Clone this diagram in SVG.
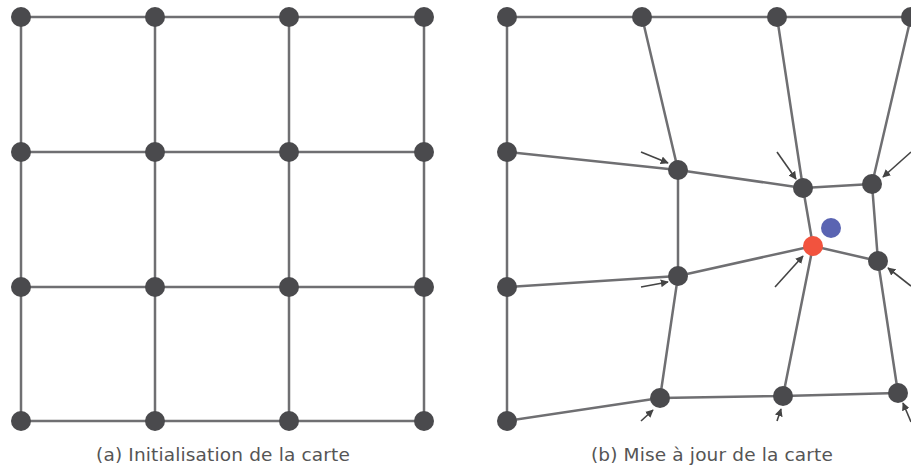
<svg xmlns="http://www.w3.org/2000/svg" width="911" height="468" viewBox="0 0 911 468">
<style>
.e{stroke:#6f6f72;stroke-width:2.5;fill:none}
.n{fill:#4a4a4d}
.a{stroke:#444;stroke-width:1.6;fill:none;marker-end:url(#ah)}
.t{font-family:"DejaVu Sans",Verdana,sans-serif;font-size:18.5px;letter-spacing:0.15px;fill:#555;text-anchor:middle}
</style>
<defs>
<marker id="ah" viewBox="0 0 10 10" refX="9" refY="5" markerWidth="5" markerHeight="5" orient="auto" markerUnits="strokeWidth">
<path d="M0,0 L10,5 L0,10 z" fill="#444"/>
</marker>
</defs>
<g id="connectors">
<path class="e" d="M21,17H424M21,152H424M21,287H424M21,421H424M21,17V421M155,17V421M289,17V421M424,17V421"/>
<path class="e" d="M507,17H911M507,152L678,170L803,188L872,184M507,287L678,276L813,246L878,261M507,421L660,398L783,396L898,393M507,17V421M642,17L678,170L678,276L660,398M777,17L803,188L813,246L783,396M911,17L872,184L878,261L898,393"/>
<line class="a" x1="641" y1="152" x2="668" y2="163"/>
<line class="a" x1="777" y1="152" x2="796" y2="179"/>
<line class="a" x1="911" y1="152" x2="883" y2="177"/>
<line class="a" x1="775" y1="287" x2="803" y2="256"/>
<line class="a" x1="911" y1="286" x2="888" y2="268"/>
<line class="a" x1="641" y1="287" x2="668" y2="282"/>
<line class="a" x1="641" y1="421" x2="653" y2="410"/>
<line class="a" x1="777" y1="421" x2="781" y2="409"/>
<line class="a" x1="911" y1="422" x2="903" y2="403"/>
</g>
<g id="grid-a">
<circle class="n" cx="21" cy="17" r="10"/><circle class="n" cx="155" cy="17" r="10"/><circle class="n" cx="289" cy="17" r="10"/><circle class="n" cx="424" cy="17" r="10"/>
<circle class="n" cx="21" cy="152" r="10"/><circle class="n" cx="155" cy="152" r="10"/><circle class="n" cx="289" cy="152" r="10"/><circle class="n" cx="424" cy="152" r="10"/>
<circle class="n" cx="21" cy="287" r="10"/><circle class="n" cx="155" cy="287" r="10"/><circle class="n" cx="289" cy="287" r="10"/><circle class="n" cx="424" cy="287" r="10"/>
<circle class="n" cx="21" cy="421" r="10"/><circle class="n" cx="155" cy="421" r="10"/><circle class="n" cx="289" cy="421" r="10"/><circle class="n" cx="424" cy="421" r="10"/>
</g>
<g id="grid-b">
<circle class="n" cx="507" cy="17" r="10"/><circle class="n" cx="642" cy="17" r="10"/><circle class="n" cx="777" cy="17" r="10"/><circle class="n" cx="911" cy="17" r="10"/>
<circle class="n" cx="507" cy="152" r="10"/><circle class="n" cx="678" cy="170" r="10"/><circle class="n" cx="803" cy="188" r="10"/><circle class="n" cx="872" cy="184" r="10"/>
<circle class="n" cx="507" cy="287" r="10"/><circle class="n" cx="678" cy="276" r="10"/><circle class="n" cx="878" cy="261" r="10"/>
<circle class="n" cx="507" cy="421" r="10"/><circle class="n" cx="660" cy="398" r="10"/><circle class="n" cx="783" cy="396" r="10"/><circle class="n" cx="898" cy="393" r="10"/>
</g>
<g id="bmu"><circle cx="813" cy="246" r="10" fill="#f2533e"/></g>
<g id="input"><circle cx="831" cy="228" r="10" fill="#5a64b2"/></g>
<g id="labels">
<text class="t" x="223" y="461">(a) Initialisation de la carte</text>
<text class="t" x="712" y="461">(b) Mise à jour de la carte</text>
</g>
</svg>
